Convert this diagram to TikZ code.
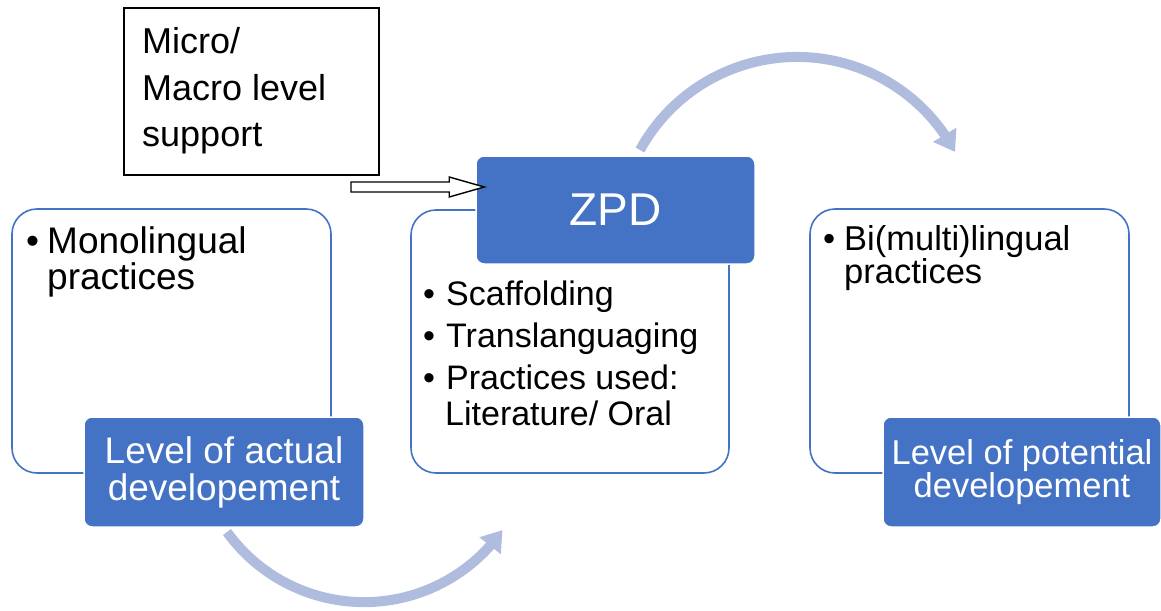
\documentclass[tikz,border=0pt]{standalone}
\usepackage{fontspec}
\setmainfont{Liberation Sans}
\usetikzlibrary{arrows.meta,bending,calc}
\definecolor{zpdBlue}{RGB}{68,114,196}
\definecolor{zpdArc}{RGB}{176,188,222}
\newcommand{\zpdSize}[2]{\fontsize{#1}{#2}\selectfont}

\tikzset{
  stagebox/.style={draw=zpdBlue, line width=1.6pt, fill=white, rounded corners=25pt, inner sep=0pt},
  levelbox/.style={draw=white, line width=1.5pt, fill=zpdBlue, rounded corners=8pt, inner sep=0pt, text=white, align=center},
  flowarc/.style={draw=zpdArc, line width=10pt, -{Triangle[length=20pt,width=26pt]}},
  txtline/.style={anchor=base west, inner sep=0pt},
}

\begin{document}
\begin{tikzpicture}[x=1pt,y=-1pt]
\useasboundingbox (0,0) rectangle (1161,610);
% arcs behind the boxes
\coordinate (arcLow) at (227,532);
\coordinate (arcHigh) at (640,150);
\draw[flowarc] (arcLow) arc[start angle=144.2, end angle=35, radius=169];
\draw[flowarc] (arcHigh) arc[start angle=-151.3, end angle=-28, radius=179];
% the three stages
\node[stagebox, minimum width=319pt, minimum height=264pt] (actual) at (171.5,341) {};
\node[stagebox, minimum width=318pt, minimum height=263pt] (zone) at (570,341.5) {};
\node[stagebox, minimum width=319pt, minimum height=264pt] (potential) at (969.5,341) {};
% left stage text
\node[txtline, font=\zpdSize{37}{37}] (monoDot) at (26,253) {•};
\node[txtline, font=\zpdSize{37}{37}] (monoA) at (47,253) {Monolingual};
\node[txtline, font=\zpdSize{37}{37}] (monoB) at (47,289) {practices};
% middle stage text
\node[txtline, font=\zpdSize{34}{34}] (scafDot) at (423,305) {•};
\node[txtline, font=\zpdSize{34}{34}] (scaf) at (446,305) {Scaffolding};
\node[txtline, font=\zpdSize{34}{34}] (transDot) at (423,347) {•};
\node[txtline, font=\zpdSize{34}{34}] (trans) at (446,347) {Translanguaging};
\node[txtline, font=\zpdSize{34}{34}] (usedDot) at (423,389) {•};
\node[txtline, font=\zpdSize{34}{34}] (usedA) at (446,389) {Practices used:};
\node[txtline, font=\zpdSize{34}{34}] (usedB) at (445,425) {Literature/ Oral};
% right stage text
\node[txtline, font=\zpdSize{34.5}{34.5}] (biDot) at (823,250) {•};
\node[txtline, font=\zpdSize{34.5}{34.5}] (biA) at (844,250) {Bi(multi)lingual};
\node[txtline, font=\zpdSize{34.5}{34.5}] (biB) at (844,283) {practices};
% blue labels
\node[levelbox, minimum width=280pt, minimum height=110pt, font=\zpdSize{37}{37}] (lad) at (224,472) {Level of actual\\developement};
\node[levelbox, minimum width=278pt, minimum height=110pt, font=\zpdSize{34.5}{33}] (lpd) at (1022,472) {Level of potential\\developement};
\node[levelbox, minimum width=279pt, minimum height=108pt, font=\zpdSize{46}{46}] (zpd) at (615.5,210) {ZPD};
% support box and its arrow
\node[draw, line width=1.4pt, fill=white, minimum width=255pt, minimum height=167pt, inner sep=0pt] (support) at (251.5,91.5) {};
\node[txtline, font=\zpdSize{36}{36}] (supA) at (142,54) {Micro/};
\node[txtline, font=\zpdSize{36}{36}] (supB) at (142,100) {Macro level};
\node[txtline, font=\zpdSize{36}{36}] (supC) at (142,146) {support};
\coordinate (pushTail) at (351,187);
\coordinate (pushTip) at ($(zpd.west)+(9,-23)$);
\draw[line width=1.4pt, fill=white] ($(pushTail)+(0,-5)$) -- ($(pushTip)+(-35,-5)$) -- ($(pushTip)+(-35,-10)$)
  -- (pushTip) -- ($(pushTip)+(-35,10)$) -- ($(pushTip)+(-35,5)$) -- ($(pushTail)+(0,5)$) -- cycle;
\end{tikzpicture}
\end{document}
